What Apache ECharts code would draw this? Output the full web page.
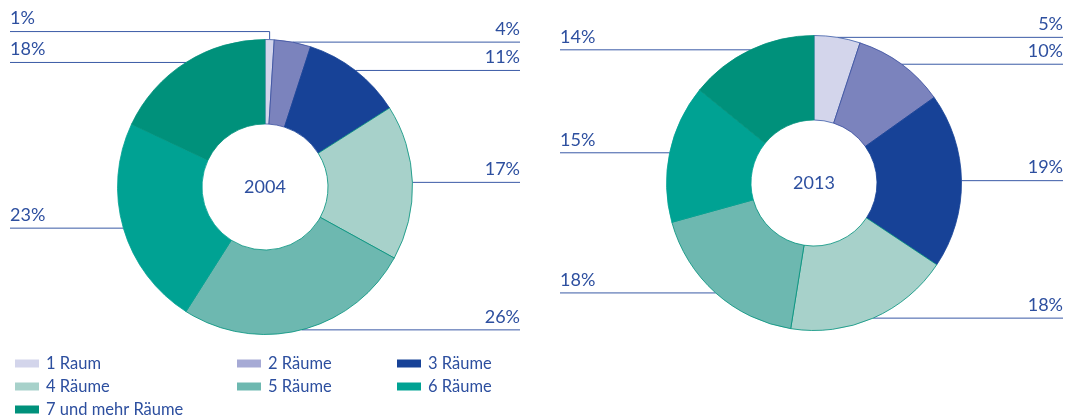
<!DOCTYPE html>
<html>
<head>
<meta charset="utf-8">
<script src="https://cdn.jsdelivr.net/npm/echarts@6/dist/echarts.min.js"></script>
<style>
  html, body { margin: 0; padding: 0; background: #fff; }
  #main { width: 1069px; height: 418px; }
</style>
</head>
<body>
<div id="main"></div>
<script>
// Wohnungen nach Anzahl der Räume (Anteile in %)
const categories = ['1 Raum', '2 Räume', '3 Räume', '4 Räume', '5 Räume', '6 Räume', '7 und mehr Räume']
const years = ['2004', '2013']
const values2004 = [1, 4, 11, 17, 26, 23, 18]
const values2013 = [5, 10, 19, 18, 18, 15, 14]

const colors = ['#d3d5eb', '#7b83bd', '#174297', '#a7d1ca', '#6db8b0', '#00a293', '#00917b']
const borderColors = ['#3a5aa6', '#3a4fa0', '#174297', '#00917b', '#00917b', '#00a293', '#00917b']
const legendColors = ['#d3d5eb', '#a6aad5', '#174297', '#a7d1ca', '#6db8b0', '#00a293', '#00917b']
const textColor = '#2d4f9f'
const lineColor = '#3a5aa6'
const fontFamily = 'Lato, "Noto Sans", sans-serif'

// Position der beiden Ringe und Ränder für die Beschriftung
const pies = [
  { center: [265, 187], edges: [10, 520] },
  { center: [814, 183], edges: [560, 1063] },
]

const chart = echarts.init(document.getElementById('main'))

// Beschriftung über einer waagerechten Linie bis zum Rand
const layoutLabel = (params) => {
  const pts = params.labelLinePoints
  if (!pts) return {}
  const pie = pies[params.seriesIndex]
  const x0 = pts[0][0]
  const y0 = pts[0][1]
  const dx = x0 - pie.center[0]
  // sehr schmales Segment oben: Linie knickt nach oben und geht nach links
  if (Math.abs(dx) < 12 && y0 < pie.center[1]) {
    const yl = y0 - 8
    return {
      x: pie.edges[0],
      y: yl - 13,
      align: 'left',
      verticalAlign: 'middle',
      labelLinePoints: [[x0, y0], [x0, yl], [pie.edges[0], yl]],
    }
  }
  const right = dx >= 0
  const xe = right ? pie.edges[1] : pie.edges[0]
  return {
    x: xe,
    y: y0 - 13,
    align: right ? 'right' : 'left',
    verticalAlign: 'middle',
    labelLinePoints: [[x0, y0], [x0, y0], [xe, y0]],
  }
}

const makeSeries = (values, idx) => ({
  name: years[idx],
  type: 'pie',
  center: pies[idx].center,
  radius: [63, 147.5],
  startAngle: 90,
  clockwise: true,
  avoidLabelOverlap: false,
  silent: true,
  label: {
    show: true,
    position: 'outside',
    formatter: '{c}%',
    color: textColor,
    fontFamily: fontFamily,
    fontSize: 18,
  },
  labelLine: {
    show: true,
    length: 0,
    length2: 10,
    smooth: false,
    lineStyle: { color: lineColor, width: 1 },
  },
  labelLayout: layoutLabel,
  data: values.map((v, i) => ({
    name: categories[i],
    value: v,
    itemStyle: { color: colors[i], borderColor: borderColors[i], borderWidth: 0.8 },
  })),
})

const legendStyle = {
  orient: 'vertical',
  top: 350,
  height: 68,
  itemWidth: 24,
  itemHeight: 8,
  itemGap: 6,
  icon: 'rect',
  selectedMode: false,
  textStyle: { color: textColor, fontFamily: fontFamily, fontSize: 16.5, lineHeight: 16, padding: [0, 0, 0, 2] },
}
const legendItem = (i) => ({ name: categories[i], itemStyle: { color: legendColors[i], borderWidth: 0 } })

const option = {
  animation: false,
  title: years.map((y, i) => ({
    text: y,
    left: pies[i].center[0],
    top: pies[i].center[1] - 9,
    textAlign: 'center',
    padding: 0,
    textStyle: { color: textColor, fontFamily: fontFamily, fontSize: 18, fontWeight: 'normal' },
  })),
  legend: [
    Object.assign({ left: 10, data: [0, 3, 6].map(legendItem) }, legendStyle),
    Object.assign({ left: 232, data: [1, 4].map(legendItem) }, legendStyle),
    Object.assign({ left: 392, data: [2, 5].map(legendItem) }, legendStyle),
  ],
  series: [makeSeries(values2004, 0), makeSeries(values2013, 1)],
}

chart.setOption(option)
</script>
</body>
</html>
